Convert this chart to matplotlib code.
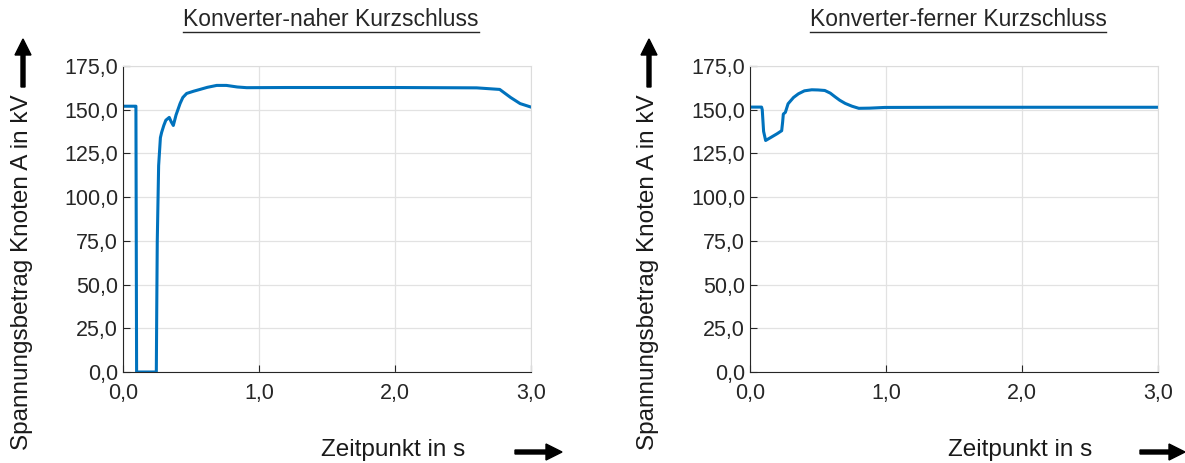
import matplotlib.pyplot as plt
import matplotlib.ticker as ticker
import matplotlib.patches as patches

plt.rcParams['font.family'] = ['Liberation Sans', 'DejaVu Sans']

# Konverter-naher Kurzschluss (t in s, U in kV)
t_nah = [0.0, 0.09, 0.095, 0.10, 0.245, 0.248, 0.252, 0.262, 0.275, 0.284, 0.30, 0.315,
         0.34, 0.355, 0.37, 0.39, 0.42, 0.44, 0.468, 0.52, 0.566, 0.62, 0.689, 0.76,
         0.84, 0.91, 1.2, 2.0, 2.6, 2.77, 2.85, 2.92, 3.0]
u_nah = [152.0, 152.0, 152.0, 0.0, 0.0, 35.0, 75.0, 118.0, 134.0, 137.0, 141.0, 144.0,
         145.6, 143.0, 141.0, 147.0, 153.6, 157.0, 159.3, 160.6, 161.6, 162.8, 163.9, 163.9,
         163.0, 162.6, 162.7, 162.7, 162.5, 161.6, 157.0, 153.5, 151.5]

# Konverter-ferner Kurzschluss
t_fern = [0.0, 0.085, 0.09, 0.10, 0.115, 0.15, 0.20, 0.233, 0.24, 0.245, 0.26, 0.28,
          0.32, 0.356, 0.40, 0.454, 0.50, 0.55, 0.59, 0.625, 0.66, 0.70, 0.75, 0.80,
          0.88, 0.99, 1.5, 2.0, 2.5, 3.0]
u_fern = [151.5, 151.5, 150.0, 137.6, 132.4, 134.0, 136.3, 138.0, 143.0, 147.5, 148.5, 153.4,
          157.0, 159.1, 160.8, 161.4, 161.3, 161.0, 159.5, 157.4, 155.4, 153.6, 152.0, 150.8,
          150.9, 151.3, 151.4, 151.4, 151.4, 151.4]

titles = ['Konverter-naher Kurzschluss', 'Konverter-ferner Kurzschluss']
y_ticks = [0, 25, 50, 75, 100, 125, 150, 175]
x_ticks = [0, 1, 2, 3]

W, H = 1185, 463
fig = plt.figure(figsize=(W / 100, H / 100), dpi=100)

axes_px = [(123, 66, 408, 306), (750, 66, 408, 306)]
data = [(t_nah, u_nah), (t_fern, u_fern)]
label_x = [22, 648]
arrow_x = [(515, 560), (1140, 1183)]
r = fig.canvas.get_renderer()

for i in range(2):
    x0, y0, w, h = axes_px[i]
    ax = fig.add_axes([x0 / W, 1 - (y0 + h) / H, w / W, h / H])
    t, u = data[i]
    ax.plot(t, u, color='#0072BD', lw=2.2)
    ax.set_xlim(0, 3)
    ax.set_ylim(0, 175)
    ax.set_xticks(x_ticks)
    ax.set_yticks(y_ticks)
    fmt = ticker.FuncFormatter(lambda v, p: "{0:.1f}".format(v).replace('.', ','))
    ax.xaxis.set_major_formatter(fmt)
    ax.yaxis.set_major_formatter(fmt)
    ax.tick_params(direction='in', labelsize=15.5, colors='#262626', length=5,
                   width=0.8, top=False, right=False)
    ax.tick_params(axis='x', pad=8)
    for s in ['left', 'bottom']:
        ax.spines[s].set_color('#262626')
        ax.spines[s].set_linewidth(0.8)
    for s in ['top', 'right']:
        ax.spines[s].set_color('#dcdcdc')
    ax.grid(True, color='#e2e2e2', lw=0.9)
    ax.set_axisbelow(True)

    cx = x0 + w / 2 + 4
    tt = fig.text(cx / W, 1 - 20 / H, titles[i], ha='center', va='center',
                  fontsize=16.5, color='#262626')
    # underline
    bb = tt.get_window_extent(renderer=r)
    fig.add_artist(plt.Line2D([bb.x0 / W, bb.x1 / W], [1 - 32 / H, 1 - 32 / H],
                              color='#262626', lw=1.0, transform=fig.transFigure))

    fig.text(label_x[i] / W, 1 - 272 / H, 'Spannungsbetrag Knoten A in kV',
             rotation=90, ha='center', va='center', fontsize=17.5, color='#1a1a1a')
    fig.text((x0 + 270) / W, 1 - 450 / H, 'Zeitpunkt in s', ha='center',
             va='center', fontsize=17.5, color='#1a1a1a')

    # arrows
    ax_ = arrow_x[i]
    fig.add_artist(patches.FancyArrow(
        ax_[0] / W, 1 - 452 / H, (ax_[1] - ax_[0] - 14) / W, 0, width=4 / H,
        head_width=16 / H, head_length=16 / W, color='black',
        transform=fig.transFigure, length_includes_head=False))
    ux = label_x[i] + 1
    fig.add_artist(patches.FancyArrow(
        ux / W, 1 - 87 / H, 0, 32 / H, width=4 / W,
        head_width=16 / W, head_length=16 / H, color='black',
        transform=fig.transFigure, length_includes_head=False))

fig.savefig('out.png', dpi=100)
